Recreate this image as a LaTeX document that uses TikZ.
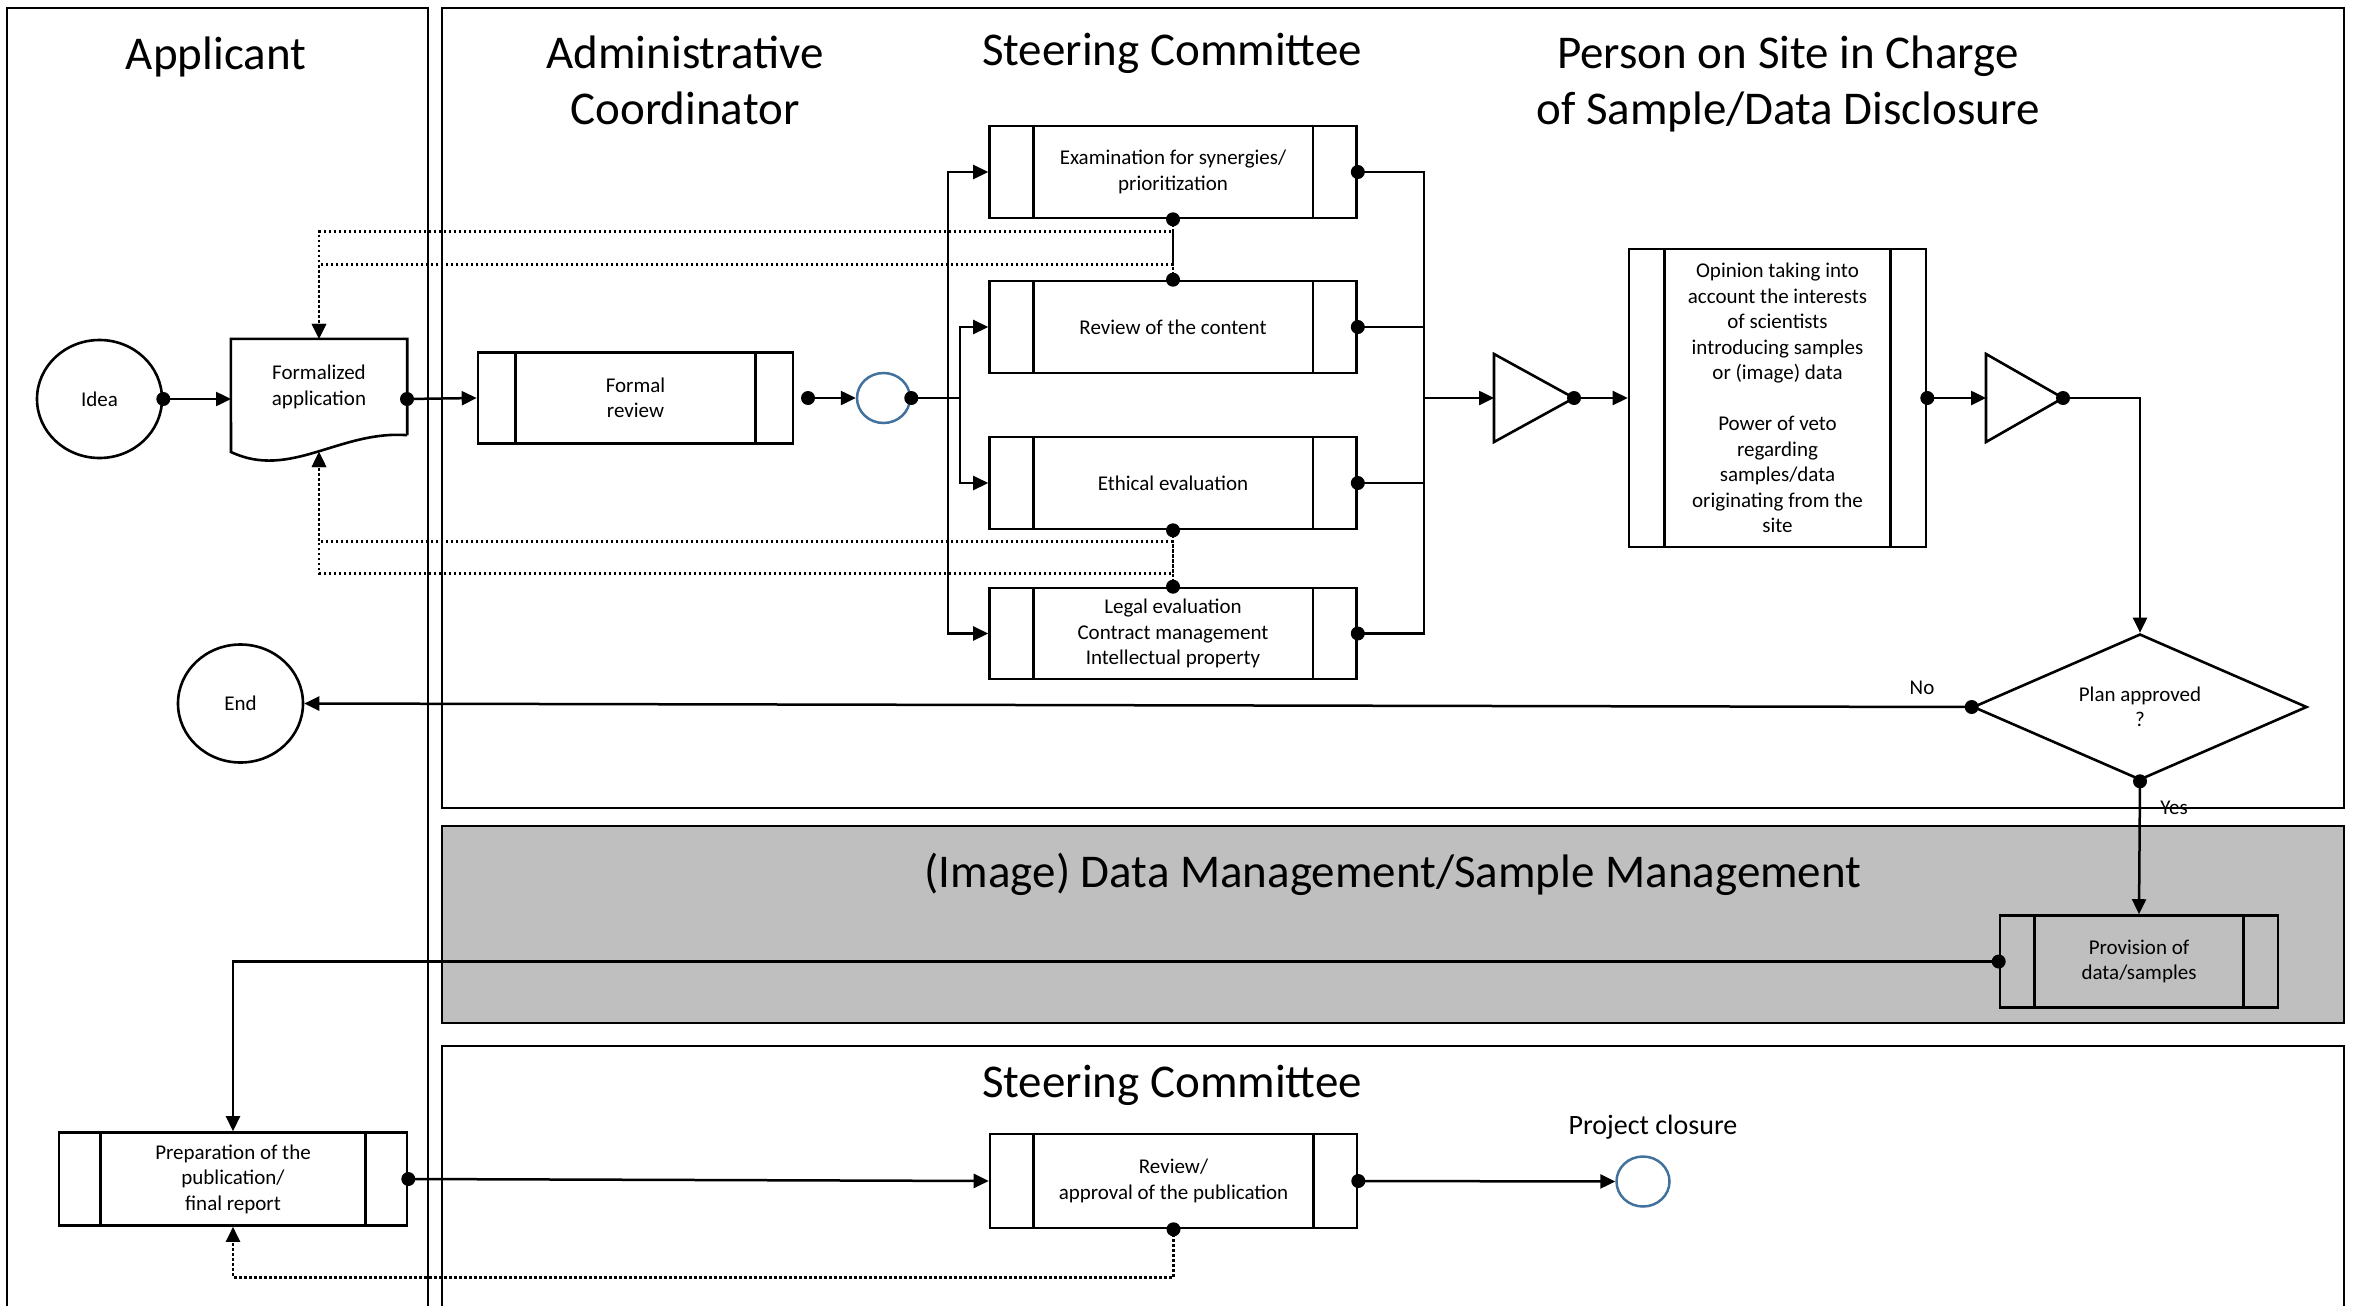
\documentclass[tikz,border=0pt]{standalone}
\usepackage{fontspec}
\setmainfont{Carlito}
\usetikzlibrary{calc,arrows.meta,shapes.geometric}
\definecolor{laneGray}{HTML}{BFBFBF}
\definecolor{startBlue}{HTML}{41719C}
\def\procbars(#1)(#2){\draw[box] ($(#1.north west)+(#2,0)$) -- ($(#1.south west)+(#2,0)$); \draw[box] ($(#1.north east)-(#2,0)$) -- ($(#1.south east)-(#2,0)$);}
\tikzset{
	lane/.style={line width=2.2pt},
	box/.style={line width=2.6pt},
	wire/.style={line width=2.5pt},
	conn/.style={wire, -{Triangle[length=15pt,width=14pt]}},
	fb/.style={conn, dash pattern=on 2.5pt off 2.5pt},
	txt/.style={font=\fontsize{21}{25.5}\selectfont, align=center},
	proc/.style={txt, box, draw, rectangle, inner sep=0pt},
	doc/.style={txt, rectangle, inner sep=0pt, minimum width=176, minimum height=96},
	term/.style={txt, box, draw, ellipse, inner sep=0pt, minimum width=125, minimum height=118},
	startstop/.style={wire, draw=startBlue, ellipse, inner sep=0pt, minimum width=53, minimum height=50},
	decision/.style={txt, box, draw, diamond, aspect=2.3, inner sep=0pt, minimum width=334, minimum height=146},
	lbl/.style={txt},
	hdr/.style={font=\fontsize{47}{56}\selectfont, align=center},
}

\begin{document}
\begin{tikzpicture}[x=1pt, y=-1pt]
		%%%%% START %%%%%
		\useasboundingbox (0,0) rectangle (2356,1306);
		
		% lanes
		\draw[lane] (7,1312) -- (7,8) -- (428,8) -- (428,1312);
		\draw[lane] (442,8) rectangle (2344,808);
		\draw[lane, fill=laneGray] (442,826) rectangle (2344,1023);
		\draw[lane] (442,1312) -- (442,1046) -- (2344,1046) -- (2344,1312);
		
		\node[hdr] (happl) at (216,57) {Applicant};
		\node[hdr] (hadmin) at (685,80) {Administrative\\Coordinator};
		\node[hdr] (hsteer) at (1172,53) {Steering Committee};
		\node[hdr] (hsite) at (1788,84) {Person on Site in Charge\\of Sample/Data Disclosure};
		\node[hdr] (hdata) at (1393,874) {(Image) Data Management/Sample Management};
		\node[hdr] (hsteerb) at (1172,1085) {Steering Committee};
		\node[lbl, font=\fontsize{28}{34}\selectfont] (hclose) at (1653,1127) {Project closure};
		
		% application
		\node[term] (idea) at (99.5,399) {Idea};
		\node[doc] (formapp) at (319,387) {Formalized\\application};
		\draw[box] (formapp.south east) -- (formapp.north east) -- (formapp.north west) -- (231,452) .. controls (290,480) and (340,430) .. (formapp.south east);
		\coordinate (fain) at (231,399);
		\coordinate (faout) at (407,399);
		\coordinate (fabot) at (319,452);
		
		\node[proc, minimum width=315, minimum height=91] (formrev) at (635.5,398) {Formal\\review};
		\procbars(formrev)(39)
		\node[startstop] (startc) at (883.5,398) {};
		
		% committee
		\node[proc, minimum width=367, minimum height=92] (exam) at (1173,172) {Examination for synergies/\\prioritization};
		\node[proc, minimum width=367, minimum height=92] (content) at (1173,327) {Review of the content};
		\node[proc, minimum width=367, minimum height=92] (ethic) at (1173,483) {Ethical evaluation};
		\node[proc, minimum width=367, minimum height=91] (legal) at (1173,633.5) {Legal evaluation\\Contract management\\Intellectual property};
		\foreach \n in {exam,content,ethic,legal} {\procbars(\n)(45)}
		
		% site
		\draw[box] (1494,354) -- (1574,398) -- (1494,442) -- cycle;
		\coordinate (g1in) at (1494,398);
		\coordinate (g1out) at (1574,398);
		\node[proc, minimum width=297, minimum height=298] (opinion) at (1777.5,398) {Opinion taking into\\account the interests\\of scientists\\introducing samples\\or (image) data\\[25.5pt]Power of veto\\regarding\\samples/data\\originating from the\\site};
		\procbars(opinion)(37)
		\draw[box] (1986,354) -- (2063,398) -- (1986,442) -- cycle;
		\coordinate (g2in) at (1986,398);
		\coordinate (g2out) at (2063,398);
		
		\node[decision] (plan) at (2140,707) {Plan approved\\?};
		\node[term] (endc) at (240.5,703.5) {End};
		\node[lbl] (nolbl) at (1922,688) {No};
		\node[lbl] (yeslbl) at (2174,808) {Yes};
		
		% data and publication
		\node[proc, minimum width=278, minimum height=92] (prov) at (2139,961.5) {Provision of\\data/samples};
		\procbars(prov)(36)
		\node[proc, minimum width=348, minimum height=93] (prep) at (233,1179) {Preparation of the\\publication/\\final report};
		\procbars(prep)(43)
		\node[proc, minimum width=367, minimum height=94] (pubrev) at (1173.5,1181) {Review/\\approval of the publication};
		\procbars(pubrev)(45)
		\node[startstop] (closec) at (1643,1181.5) {};
		
		% connectors
		\coordinate (frout) at (808,398);
		\coordinate (busa) at (948,398);
		\coordinate (busb) at (960,398);
		\coordinate (rbus) at (1424,398);
		
		\draw[conn] (idea.east) -- (fain);
		\draw[conn] (faout) -- (formrev.west);
		\draw[conn] (frout) -- (startc.west);
		\draw[wire] (startc.east) -- (busb);
		\draw[conn] (busa) |- (exam.west);
		\draw[conn] (busa) |- (legal.west);
		\draw[conn] (busb) |- (content.west);
		\draw[conn] (busb) |- (ethic.west);
		\foreach \n in {exam,content,ethic,legal} {\draw[wire] (\n.east) -| (rbus);}
		\draw[conn] (rbus) -- (g1in);
		\draw[conn] (g1out) -- (opinion.west);
		\draw[conn] (opinion.east) -- (g2in);
		\draw[conn] (g2out) -| (plan.north);
		\draw[conn] (plan.west) -- (endc.east);
		\draw[conn] (plan.south) -- (prov.north);
		\draw[conn] (prov.west) -| (prep.north);
		\draw[conn] (prep.east) -- (pubrev.west);
		\draw[conn] (pubrev.east) -- (closec.west);
		
		% feedback
		\draw[fb] (exam.south) -- ++(0,45) -| (formapp.north);
		\draw[fb] (content.north) -- ++(0,-48) -| (formapp.north);
		\draw[fb] (ethic.south) -- ++(0,43) -| (fabot);
		\draw[fb] (legal.north) -- ++(0,-45) -| (fabot);
		\draw[fb] (pubrev.south) -- ++(0,48) -| (prep.south);
		
		\foreach \p in {idea.east,faout,frout,startc.east,exam.east,content.east,ethic.east,legal.east,g1out,opinion.east,g2out,plan.west,plan.south,prov.west,prep.east,pubrev.east,pubrev.south,exam.south,content.north,ethic.south,legal.north}
			\fill (\p) circle (7);
		
		%%%%% END %%%%%
\end{tikzpicture}
\end{document}
